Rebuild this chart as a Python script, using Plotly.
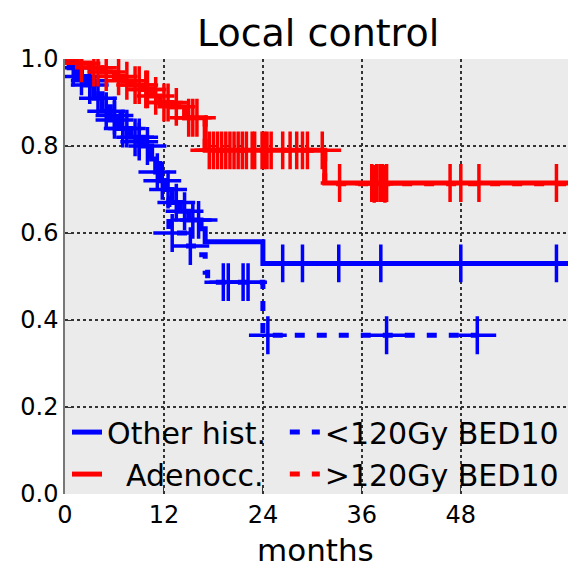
import plotly.graph_objects as go

# ---------------- data ----------------
# Kaplan-Meier curves: event times (months) and survival after each event
other_t = [0.5, 1.5, 2.5, 3.5, 4.5, 5.5, 6.5, 8.0, 9.5, 10.5, 11.0, 11.5, 12.0, 13.0, 14.0, 15.0, 16.5, 17.0, 24.0]
other_s = [0.98, 0.96, 0.94, 0.91, 0.88, 0.86, 0.84, 0.82, 0.80, 0.77, 0.74, 0.72, 0.70, 0.67, 0.65, 0.63, 0.61, 0.58, 0.53]
other_cens = [1.0, 2.0, 3.0, 4.0, 5.0, 6.0, 7.0, 7.5, 8.5, 9.0, 10.0, 11.2, 12.5, 13.5, 14.5, 15.5, 16.2,
              26.4, 28.8, 33.2, 38.3, 48.0, 59.6]
other_end = 61.0

adeno_t = [1.5, 3.0, 4.5, 6.0, 7.0, 8.0, 9.5, 10.5, 11.5, 13.0, 14.5, 17.0, 31.5]
adeno_s = [0.99, 0.98, 0.97, 0.96, 0.95, 0.94, 0.93, 0.915, 0.90, 0.89, 0.865, 0.79, 0.715]
adeno_cens = [2.0, 3.5, 5.0, 6.5, 7.5, 8.5, 9.0, 10.0, 11.0, 12.0, 13.5, 15.0, 15.5, 16.0,
              17.5, 18.5, 19.5, 20.5, 21.5, 22.7, 23.0, 23.9, 24.2, 24.5, 25.0, 26.4, 27.3, 28.1, 28.8, 29.4, 31.2,
              33.3, 37.2, 37.8, 38.2, 38.5, 39.0, 46.7, 48.0, 50.2, 59.6]
adeno_end = 61.0

low_t = [0.5, 1.5, 2.5, 3.5, 4.5, 5.5, 6.5, 7.5, 8.5, 9.5, 10.5, 11.5, 12.2, 12.6, 14.5, 16.0, 17.0, 17.3, 24.0]
low_s = [0.98, 0.97, 0.95, 0.92, 0.89, 0.87, 0.85, 0.83, 0.81, 0.79, 0.76, 0.72, 0.68, 0.60, 0.57, 0.55, 0.51, 0.487, 0.365]
low_cens = [3.0, 6.0, 9.0, 11.8, 13.0, 15.2, 19.2, 19.8, 21.6, 22.2, 24.6, 39.0, 50.0]
low_end = 50.0

high_t = [1.5, 3.0, 4.5, 6.0, 7.0, 8.0, 9.5, 10.5, 11.5, 13.0, 14.5, 17.0, 31.5]
high_s = [0.99, 0.98, 0.97, 0.96, 0.95, 0.94, 0.93, 0.915, 0.90, 0.89, 0.865, 0.79, 0.713]
high_cens = [4.0, 9.8, 12.5, 18.0, 19.0, 20.0, 21.0, 22.0, 37.5, 38.8]
high_end = 61.0

x_ticks = [0, 12, 24, 36, 48]
y_ticks = [0.0, 0.2, 0.4, 0.6, 0.8, 1.0]

BLUE = "#0000ff"
RED = "#ff0000"
NB = "\u00a0"


def step_xy(t, s, end):
    return [0.0] + list(t) + [end], [1.0] + list(s) + [s[-1]]


def surv_at(t, s, times):
    out = []
    for c in times:
        v = 1.0
        for ti, si in zip(t, s):
            if ti <= c:
                v = si
        out.append(v)
    return out


curves = [
    ("Other hist.", other_t, other_s, other_cens, other_end, BLUE, "solid", "legend"),
    ("<120Gy BED10", low_t, low_s, low_cens, low_end, BLUE, "dash", "legend2"),
    (NB * 2 + "Adenocc.", adeno_t, adeno_s, adeno_cens, adeno_end, RED, "solid", "legend"),
    (">120Gy BED10", high_t, high_s, high_cens, high_end, RED, "dash", "legend2"),
]

fig = go.Figure()
for name, t, s, cens, end, col, dash, leg in curves:
    xs, ys = step_xy(t, s, end)
    fig.add_trace(go.Scatter(
        x=xs, y=ys, mode="lines", name=name, line_shape="hv",
        line=dict(color=col, width=5, dash="solid" if dash == "solid" else "10px,12px"),
        showlegend=True, legend=leg,
    ))
    fig.add_trace(go.Scatter(
        x=cens, y=surv_at(t, s, cens), mode="markers", showlegend=False,
        marker=dict(symbol="cross-thin", size=27, line=dict(color=col, width=3.5)),
        hoverinfo="skip",
    ))

FONT = "DejaVu Sans"
leg_common = dict(
    orientation="v", yanchor="bottom", xanchor="left",
    bgcolor="rgba(0,0,0,0)", borderwidth=0,
    font=dict(size=30, family=FONT),
    itemwidth=30, tracegroupgap=0,
)
fig.update_layout(
    width=568, height=569,
    margin=dict(l=65, r=0, t=59, b=75),
    paper_bgcolor="white",
    plot_bgcolor="#ebebeb",
    font=dict(family=FONT, color="black", size=24),
    title=dict(text="Local control", x=0.56, xanchor="center", y=0.942, yanchor="middle",
               font=dict(size=38, family=FONT)),
    legend=dict(x=0.004, y=-0.014, **leg_common),
    legend2=dict(x=0.437, y=-0.014, **leg_common),
    xaxis=dict(
        range=[0, 61], tickvals=x_ticks, ticktext=[str(v) for v in x_ticks],
        showgrid=True, gridcolor="#333333", griddash="dot", gridwidth=1.5,
        zeroline=False, ticks="inside", ticklen=6, tickcolor="#333",
        showline=False, automargin=False, ticklabelstandoff=4,
        tickfont=dict(size=24),
    ),
    yaxis=dict(
        range=[0, 1.0], tickvals=y_ticks, ticktext=[f"{v:.1f}" for v in y_ticks],
        showgrid=True, gridcolor="#333333", griddash="dot", gridwidth=1.5,
        zeroline=False, ticks="inside", ticklen=6, tickcolor="#333",
        showline=True, linecolor="#777", linewidth=1.5, automargin=False,
        tickfont=dict(size=24),
    ),
    annotations=[dict(text="months", xref="paper", yref="paper", x=0.499, y=-0.128,
                      xanchor="center", yanchor="middle", showarrow=False,
                      font=dict(size=31, family=FONT))],
)

fig.write_html("out.html", post_script="document.body.style.margin='0';",
               config={"displayModeBar": False})
